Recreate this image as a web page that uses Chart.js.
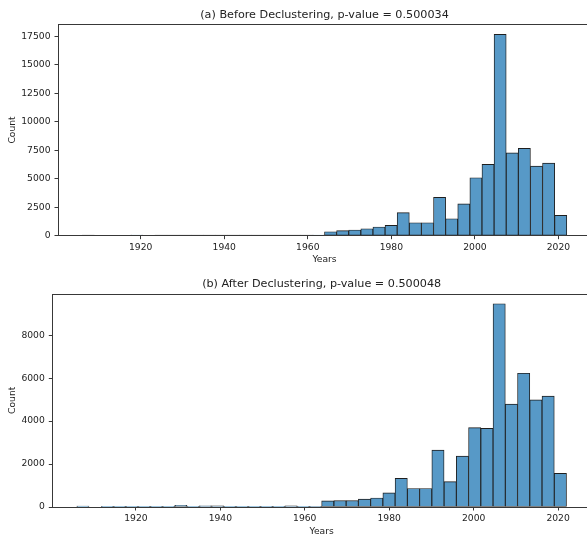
<!DOCTYPE html>
<html>
<head>
<meta charset="utf-8">
<script src="https://cdn.jsdelivr.net/npm/chart.js@4"></script>
<style>
  html, body { margin: 0; padding: 0; background: #fff; overflow: hidden; }
  .wrap { position: relative; width: 587px; height: 535px; overflow: hidden; }
  canvas { position: absolute; left: 0; }
</style>
</head>
<body>
<div class="wrap">
  <canvas id="before" width="600" height="268" style="top:0"></canvas>
  <canvas id="after" width="600" height="270" style="top:268px"></canvas>
</div>
<script>
// histogram bins (left edges, years)
const binStarts = [
  1906.0, 1908.9, 1911.8, 1914.7, 1917.6, 1920.5, 1923.4, 1926.3, 1929.2, 1932.1,
  1935.0, 1937.9, 1940.8, 1943.7, 1946.6, 1949.5, 1952.4, 1955.3, 1958.2, 1961.1,
  1964.0, 1966.9, 1969.8, 1972.7, 1975.6, 1978.5, 1981.4, 1984.3, 1987.2, 1990.1,
  1993.0, 1995.9, 1998.8, 2001.7, 2004.6, 2007.5, 2010.4, 2013.3, 2016.2, 2019.1
];
const binWidth = 2.9;

const beforeCounts = [
  15, 0, 0, 0, 45, 0, 25, 30, 35, 30,
  35, 30, 30, 25, 30, 30, 35, 35, 40, 45,
  350, 440, 500, 610, 760, 910, 2020, 1140, 1140, 3370,
  1490, 2800, 5090, 6260, 17690, 7280, 7670, 6110, 6380, 1790
];
const afterCounts = [
  40, 0, 15, 15, 15, 15, 15, 15, 80, 15,
  55, 50, 15, 10, 10, 10, 15, 50, 15, 20,
  285, 300, 300, 365, 420, 655, 1335, 860, 860, 2645,
  1180, 2370, 3695, 3660, 9465, 4790, 6230, 4990, 5165, 1565
];

const yearTicks = [1920, 1940, 1960, 1980, 2000, 2020];
const beforeTicks = [0, 2500, 5000, 7500, 10000, 12500, 15000, 17500];
const afterTicks = [0, 2000, 4000, 6000, 8000];

const font = 'DejaVu Sans';
const textColor = '#222';
const spineColor = '#383838';

const frame = {
  id: 'frame',
  afterDatasetsDraw(chart) {
    const {ctx, chartArea} = chart;
    ctx.save();
    ctx.strokeStyle = spineColor;
    ctx.lineWidth = 1;
    ctx.strokeRect(Math.round(chartArea.left) + 0.5, Math.round(chartArea.top) + 0.5,
      Math.round(chartArea.right - chartArea.left), Math.round(chartArea.bottom - chartArea.top));
    ctx.restore();
  }
};

function makeHist(id, title, counts, yTicks, yMax, lay) {
  const points = binStarts.map((b, i) => ({x: b + binWidth / 2, y: counts[i]}));
  return new Chart(document.getElementById(id), {
    type: 'bar',
    data: {
      datasets: [{
        data: points,
        backgroundColor: 'rgb(87,153,199)',
        borderColor: '#1e1e1e',
        borderWidth: 0.9,
        borderSkipped: false,
        barPercentage: 1,
        categoryPercentage: 1
      }]
    },
    options: {
      responsive: false,
      animation: false,
      devicePixelRatio: 1,
      layout: {padding: {left: 0, right: 9, top: 0, bottom: 0}},
      plugins: {
        legend: {display: false},
        tooltip: {enabled: false},
        title: {
          display: true,
          text: title,
          fullSize: false,
          color: textColor,
          font: {family: font, size: 11.2, weight: 'normal'},
          padding: {top: lay.titleTop, bottom: lay.titleBottom}
        }
      },
      scales: {
        x: {
          type: 'linear',
          min: 1900.2,
          max: 2027.8,
          offset: false,
          afterBuildTicks: (scale) => { scale.ticks = yearTicks.map(v => ({value: v})); },
          afterFit: (scale) => { scale.height = lay.xHeight; },
          grid: {display: true, drawOnChartArea: false, offset: false, tickLength: 3.5, color: spineColor},
          border: {display: false},
          ticks: {color: textColor, padding: 2.5, maxRotation: 0, font: {family: font, size: 9.2}, callback: v => String(v)},
          title: {display: true, text: 'Years', color: textColor, font: {family: font, size: 9.2}, padding: {top: 0, bottom: lay.xTitlePad}}
        },
        y: {
          min: 0,
          max: yMax,
          afterBuildTicks: (scale) => { scale.ticks = yTicks.map(v => ({value: v})); },
          afterFit: (scale) => { scale.width = lay.yWidth; },
          grid: {display: true, drawOnChartArea: false, tickLength: 3.5, color: spineColor},
          border: {display: false},
          ticks: {color: textColor, padding: 4, font: {family: font, size: 9.2}, callback: v => String(v)},
          title: {display: true, text: 'Count', color: textColor, font: {family: font, size: 9.2}, padding: {top: 7, bottom: 0}}
        }
      }
    },
    plugins: [frame]
  });
}

makeHist('before', '(a) Before Declustering, p-value = 0.500034', beforeCounts, beforeTicks, 18575,
  {titleTop: 8.4, titleBottom: 2.4, xHeight: 32.3, xTitlePad: 2.6, yWidth: 58});
makeHist('after', '(b) After Declustering, p-value = 0.500048', afterCounts, afterTicks, 9940,
  {titleTop: 9.4, titleBottom: 2.7, xHeight: 31, xTitlePad: 0.9, yWidth: 52.3});
</script>
</body>
</html>
